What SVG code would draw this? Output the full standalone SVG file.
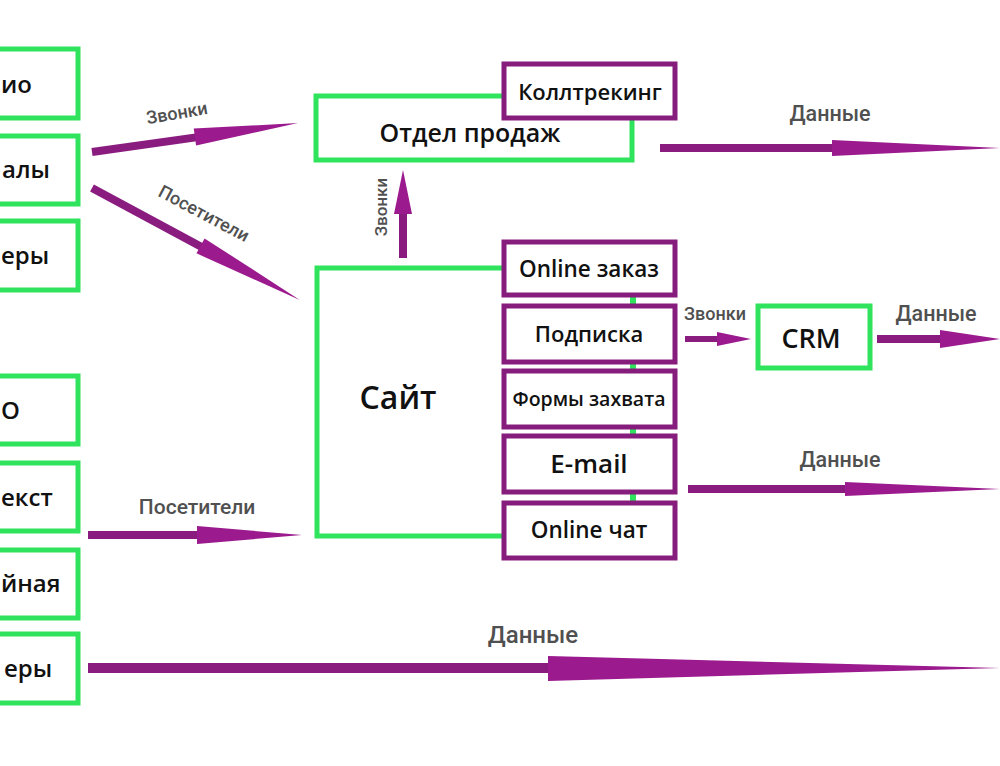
<svg xmlns="http://www.w3.org/2000/svg" width="1000" height="766" viewBox="0 0 1000 766">
<style>
.g{fill:#fff;stroke:#2fe35c;stroke-width:5}
.p{fill:#fff;stroke:#861d7c;stroke-width:5}
.t{font-family:"Open Sans","Liberation Sans",sans-serif;font-weight:600;fill:#111}
.s{font-family:"Open Sans","Liberation Sans",sans-serif;font-weight:600;fill:#111;font-size:24px}
.l{font-family:Roboto,"Liberation Sans",sans-serif;font-weight:500;fill:#505050}
.a{fill:#8a1c80}
.h{fill:#9b1a8d}
.dot{fill:#2fe35c}
</style>
<rect width="1000" height="766" fill="#fff"/>
<g id="src1"><rect class="g" x="-10" y="49" width="88" height="69"/><text class="s" x="1" y="93">ио</text></g>
<g id="src2"><rect class="g" x="-10" y="136" width="88" height="68"/><text class="s" x="2" y="178">алы</text></g>
<g id="src3"><rect class="g" x="-10" y="221" width="88" height="69"/><text class="s" x="1" y="264">еры</text></g>
<g id="src4"><rect class="g" x="-10" y="376" width="88" height="68"/><text class="s" x="1" y="419">О</text></g>
<g id="src5"><rect class="g" x="-10" y="463" width="88" height="68"/><text class="s" x="1" y="506">екст</text></g>
<g id="src6"><rect class="g" x="-10" y="550" width="88" height="68"/><text class="s" x="1" y="592">йная</text></g>
<g id="src7"><rect class="g" x="-10" y="634" width="88" height="69"/><text class="s" x="4" y="677">еры</text></g>

<g id="sales"><rect class="g" x="316" y="96" width="316" height="64"/><text class="t" x="470" y="142" text-anchor="middle" font-size="25">Отдел продаж</text></g>
<g id="calltracking"><rect class="p" x="504" y="64" width="171" height="54"/><text class="t" x="590" y="100" text-anchor="middle" font-size="22">Коллтрекинг</text></g>

<g id="site"><path d="M503 268 H317 V536 H503" fill="#fff" stroke="#2fe35c" stroke-width="5"/><text class="t" x="398" y="409" text-anchor="middle" font-size="32">Сайт</text></g>
<g id="dots"><rect class="dot" x="630" y="296" width="6" height="9"/><rect class="dot" x="630" y="362" width="6" height="8"/><rect class="dot" x="630" y="427" width="6" height="8"/><rect class="dot" x="630" y="492" width="6" height="10"/></g>
<g id="order"><rect class="p" x="504" y="242" width="171" height="53"/><text class="t" x="589" y="277" text-anchor="middle" font-size="22.5">Online заказ</text></g>
<g id="subscribe"><rect class="p" x="504" y="306" width="171" height="56"/><text class="t" x="589" y="342" text-anchor="middle" font-size="22">Подписка</text></g>
<g id="forms"><rect class="p" x="504" y="371" width="171" height="56"/><text class="t" x="589" y="406" text-anchor="middle" font-size="19.5">Формы захвата</text></g>
<g id="email"><rect class="p" x="504" y="436" width="171" height="56"/><text class="t" x="589" y="473" text-anchor="middle" font-size="26">E-mail</text></g>
<g id="chat"><rect class="p" x="504" y="503" width="171" height="55"/><text class="t" x="589" y="538" text-anchor="middle" font-size="22.5">Online чат</text></g>

<g id="crm"><rect class="g" x="758" y="306" width="112" height="62"/><text class="t" x="811" y="348" text-anchor="middle" font-size="27">CRM</text></g>

<g id="connectors">
  <g transform="translate(92,152) rotate(-8)"><path class="a" d="M0 -4 H105 V4 H0 Z"/><path class="h" d="M104 -9 L208 0 L104 8 Z"/></g>
  <text class="l" transform="translate(178,119) rotate(-10)" text-anchor="middle" font-size="18">Звонки</text>
  <g transform="translate(92,188) rotate(28.3)"><path class="a" d="M0 -4 H124 V4 H0 Z"/><path class="h" d="M123 -9 L236 0 L123 8 Z"/></g>
  <text class="l" transform="translate(201,219) rotate(28)" text-anchor="middle" font-size="18">Посетители</text>
  <g><path class="a" d="M399 258 V213 H407 V258 Z"/><path class="h" d="M394 214 L403 170 L412 214 Z"/></g>
  <text class="l" transform="translate(387,207) rotate(-90)" text-anchor="middle" font-size="17">Звонки</text>
  <g><path class="a" d="M660 144 H833 V152 H660 Z"/><path class="h" d="M832 140 L1000 148 L832 156 Z"/></g>
  <text class="l" x="830" y="121" text-anchor="middle" font-size="21.5">Данные</text>
  <g><path class="a" d="M685 336 H718 V342 H685 Z"/><path class="h" d="M717 332 L751 339 L717 346 Z"/></g>
  <text class="l" x="715" y="320" text-anchor="middle" font-size="18">Звонки</text>
  <g><path class="a" d="M877 335 H942 V343 H877 Z"/><path class="h" d="M940 330 L1000 339 L940 348 Z"/></g>
  <text class="l" x="936" y="321" text-anchor="middle" font-size="21.5">Данные</text>
  <g><path class="a" d="M688 485 H846 V493 H688 Z"/><path class="h" d="M845 482 L1000 489 L845 496 Z"/></g>
  <text class="l" x="840" y="467" text-anchor="middle" font-size="21.5">Данные</text>
  <g><path class="a" d="M88 531 H198 V539 H88 Z"/><path class="h" d="M197 526 L302 535 L197 544 Z"/></g>
  <text class="l" x="197" y="514" text-anchor="middle" font-size="21">Посетители</text>
  <g><path class="a" d="M88 663 H549 V673 H88 Z"/><path class="h" d="M548 656 L1000 668 L548 681 Z"/></g>
  <text class="l" x="533" y="643" text-anchor="middle" font-size="24">Данные</text>
</g>
</svg>
